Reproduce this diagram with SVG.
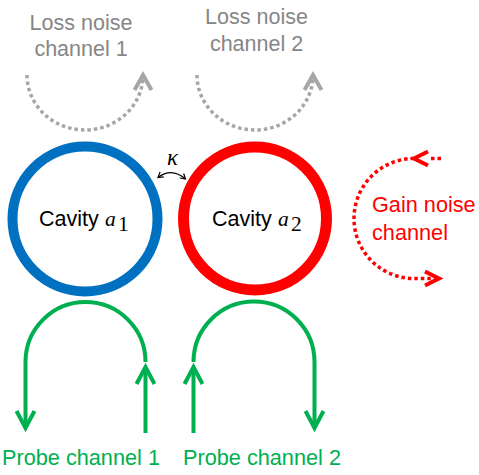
<svg xmlns="http://www.w3.org/2000/svg" width="479" height="475" viewBox="0 0 479 475">
  <style>
    .sans { font-family: "Liberation Sans", Arial, sans-serif; }
    .math { font-family: "Liberation Serif", "Times New Roman", serif; font-style: italic; }
    .mathup { font-family: "Liberation Serif", "Times New Roman", serif; }
    .gray-t { fill: #868686; font-size: 21.5px; }
    .green-t { fill: #00B050; font-size: 21.7px; }
    .red-t { fill: #FF0000; font-size: 21.7px; }
    .cav-t { fill: #000000; font-size: 21.5px; }
    .dot-gray { fill: none; stroke: #A6A6A6; stroke-width: 3.5; stroke-dasharray: 3.5 3; }
    .dot-red { fill: none; stroke: #FF0000; stroke-width: 3.5; stroke-dasharray: 3.5 3; }
    .probe { fill: none; stroke: #00B050; stroke-width: 4; }
    .couple { fill: none; stroke: #000000; stroke-width: 1.2; }
  </style>
  <defs>
    <marker id="hGreen" markerUnits="userSpaceOnUse" orient="auto" refX="0" refY="0" markerWidth="1" markerHeight="1" overflow="visible">
      <path d="M-17,-9 L0,0 L-17,9" fill="none" stroke="#00B050" stroke-width="4"/>
    </marker>
    <marker id="hGray" markerUnits="userSpaceOnUse" orient="auto" refX="0" refY="0" markerWidth="1" markerHeight="1" overflow="visible">
      <path d="M-15,-8.5 L0,0 L-15,8.5" fill="none" stroke="#A6A6A6" stroke-width="4"/>
    </marker>
    <marker id="hRed" markerUnits="userSpaceOnUse" orient="auto" refX="0" refY="0" markerWidth="1" markerHeight="1" overflow="visible">
      <path d="M-14,-7 L0,0 L-14,7" fill="none" stroke="#FF0000" stroke-width="4"/>
    </marker>
    <marker id="hBlack" markerUnits="userSpaceOnUse" orient="auto-start-reverse" refX="0" refY="0" markerWidth="1" markerHeight="1" overflow="visible">
      <path d="M-5,-3 L0,0 L-5,3" fill="none" stroke="#000000" stroke-width="1.2"/>
    </marker>
  </defs>

  <rect x="0" y="0" width="479" height="475" fill="#FFFFFF"/>

  <g id="connectors">
    <!-- loss noise arcs -->
    <path id="loss1" class="dot-gray" d="M27,75 A58,55 0 0 0 143,75" marker-end="url(#hGray)"/>
    <path id="loss2" class="dot-gray" d="M197,75 A58,55 0 0 0 313,75" marker-end="url(#hGray)"/>
    <!-- gain noise arc -->
    <path id="gain-tail" class="dot-red" d="M431,158.5 H443"/>
    <path id="gain" class="dot-red" d="M414,158.5 A60,60 0 0 0 414,278.5 H439" marker-start="url(#hRed)" marker-end="url(#hRed)"/>
    <!-- coupling -->
    <path id="kappa-arrow" class="couple" d="M158,177.5 Q171.5,167 185.5,179" marker-start="url(#hBlack)" marker-end="url(#hBlack)"/>
    <!-- probe channel 1 -->
    <path id="probe1-in" class="probe" d="M145.5,433 V367" marker-end="url(#hGreen)"/>
    <path id="probe1-out" class="probe" d="M145.5,362 A60,60 0 0 0 25.5,362 V428" marker-end="url(#hGreen)"/>
    <!-- probe channel 2 -->
    <path id="probe2-in" class="probe" d="M193.5,433 V367" marker-end="url(#hGreen)"/>
    <path id="probe2-out" class="probe" d="M193.5,362 A60.5,60.5 0 0 1 314.5,362 V428" marker-end="url(#hGreen)"/>
  </g>

  <g id="cavity1">
    <circle cx="85" cy="219" r="72.5" fill="#FFFFFF" stroke="#0070C0" stroke-width="10"/>
    <text class="sans cav-t" x="39" y="226">Cavity</text>
    <text class="math cav-t" x="105" y="226" font-size="25">a</text>
    <text class="mathup cav-t" x="118" y="230.5" font-size="17">1</text>
  </g>

  <g id="cavity2">
    <circle cx="255" cy="218.5" r="71.5" fill="#FFFFFF" stroke="#FF0000" stroke-width="11"/>
    <text class="sans cav-t" x="212" y="226">Cavity</text>
    <text class="math cav-t" x="278" y="226" font-size="25">a</text>
    <text class="mathup cav-t" x="291" y="230.5" font-size="17">2</text>
  </g>

  <g id="kappa-label">
    <text class="math" x="172.5" y="165" font-size="23" text-anchor="middle" fill="#000000">κ</text>
  </g>

  <g id="loss-noise-1">
    <text class="sans gray-t" x="81" y="30" text-anchor="middle">Loss noise</text>
    <text class="sans gray-t" x="81" y="56" text-anchor="middle">channel 1</text>
  </g>

  <g id="loss-noise-2">
    <text class="sans gray-t" x="256.5" y="24" text-anchor="middle">Loss noise</text>
    <text class="sans gray-t" x="256.5" y="51" text-anchor="middle">channel 2</text>
  </g>

  <g id="gain-noise">
    <text class="sans red-t" x="372" y="212">Gain noise</text>
    <text class="sans red-t" x="372" y="240">channel</text>
  </g>

  <g id="probe-channel-1">
    <text class="sans green-t" x="2" y="465">Probe channel 1</text>
  </g>

  <g id="probe-channel-2">
    <text class="sans green-t" x="183" y="465">Probe channel 2</text>
  </g>
</svg>
